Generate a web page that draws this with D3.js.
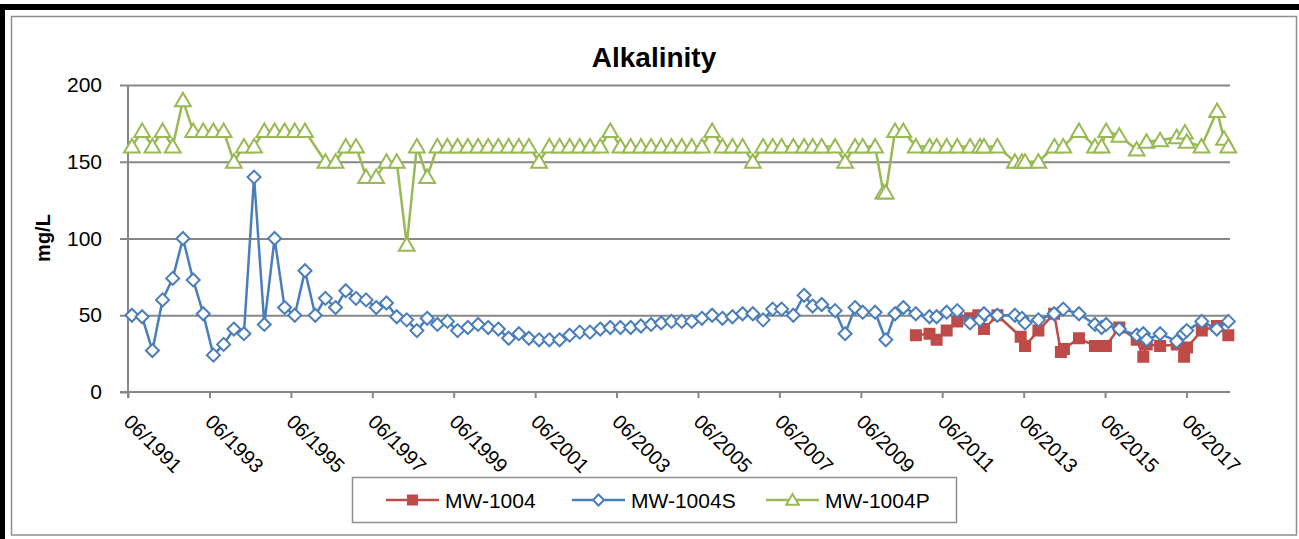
<!DOCTYPE html>
<html>
<head>
<meta charset="utf-8">
<script src="https://cdn.jsdelivr.net/npm/d3@7"></script>
<style>
  html, body { margin: 0; padding: 0; background: #fff; }
  svg { display: block; }
  text { font-family: "Liberation Sans", Arial, sans-serif; fill: #000; }
</style>
</head>
<body>
<svg id="chart" width="1299" height="539"></svg>
<script>
// ---------- DATA ----------
const chartTitle = "Alkalinity";
const yAxisTitle = "mg/L";
const seriesNames = ["MW-1004", "MW-1004S", "MW-1004P"];
const yTickValues = [0, 50, 100, 150, 200];
const xTickLabels = ["06/1991","06/1993","06/1995","06/1997","06/1999","06/2001","06/2003",
                     "06/2005","06/2007","06/2009","06/2011","06/2013","06/2015","06/2017"];

const mw1004Dates = ["2010-10-08","2011-02-07","2011-04-12","2011-07-11","2011-10-14","2012-02-06","2012-04-20",
  "2012-06-10","2012-10-08","2013-05-05","2013-06-13","2013-10-11","2014-03-01","2014-05-01","2014-05-28",
  "2014-10-10","2015-03-02","2015-06-09","2015-10-07","2016-03-11","2016-05-09","2016-06-09","2016-10-07",
  "2017-03-05","2017-05-10","2017-06-05","2017-10-16","2018-02-28","2018-06-11"];
const mw1004Values = [37,38,34,40,46,48,50,41,50,36,30,40,51,26,28,35,30,30,42,34,23,31,30,31,23,29,40,43,37];

const mw1004sDates = ["1991-07-06","1991-10-06","1992-01-06","1992-04-06","1992-07-06","1992-10-06","1993-01-06","1993-04-06","1993-07-06","1993-10-06",
  "1994-01-06","1994-04-06","1994-07-06","1994-10-06","1995-01-06","1995-04-06","1995-07-06","1995-10-06","1996-01-06","1996-04-06",
  "1996-07-06","1996-10-06","1997-01-06","1997-04-06","1997-07-06","1997-10-06","1998-01-06","1998-04-06","1998-07-06","1998-10-06",
  "1999-01-06","1999-04-06","1999-07-06","1999-10-06","2000-01-06","2000-04-06","2000-07-06","2000-10-06","2001-01-06","2001-04-06",
  "2001-07-06","2001-10-06","2002-01-06","2002-04-06","2002-07-06","2002-10-06","2003-01-06","2003-04-06","2003-07-06","2003-10-06",
  "2004-01-06","2004-04-06","2004-07-06","2004-10-06","2005-01-06","2005-04-06","2005-07-06","2005-10-06","2006-01-06","2006-04-06",
  "2006-07-06","2006-10-06","2007-01-06",
  "2007-04-02","2007-06-21","2007-10-04","2008-01-09","2008-03-26","2008-06-15","2008-10-13","2009-01-11","2009-04-10","2009-06-18",
  "2009-10-07","2010-01-11","2010-04-04","2010-06-17","2010-10-07","2011-02-07","2011-04-12","2011-07-11","2011-10-14","2012-02-06",
  "2012-05-05","2012-06-10","2012-10-08","2013-03-14","2013-05-16","2013-06-13","2013-10-11","2014-03-01","2014-05-22","2014-10-10",
  "2015-03-02","2015-05-01","2015-06-11","2015-10-07","2016-03-11","2016-05-09","2016-06-09","2016-10-07","2017-03-05","2017-05-03",
  "2017-06-03","2017-10-16","2018-02-28","2018-06-11"];
const mw1004sValues = [50,49,27,60,74,100,73,51,24,31,
  41,38,140,44,100,55,50,79,50,61,
  55,66,61,60,55,58,49,47,40,48,
  44,46,40,42,44,42,41,35,38,35,
  34,34,34,37,39,39,41,42,42,42,
  43,44,45,46,46,46,48,50,48,49,
  51,51,47,
  54,54,50,63,56,57,53,38,55,52,
  52,34,51,55,51,49,49,52,53,45,
  47,51,50,50,48,45,47,51,54,51,
  44,42,44,41,37,38,34,38,33,38,
  40,46,41,46];

const mw1004pDates = ["1991-07-06","1991-10-06","1992-01-06","1992-04-06","1992-07-06","1992-10-06","1993-01-06","1993-04-06","1993-07-06","1993-10-06",
  "1994-01-06","1994-04-06","1994-07-06","1994-10-06","1995-01-06","1995-04-06","1995-07-06","1995-10-06","1996-04-06",
  "1996-07-06","1996-10-06","1997-01-06","1997-04-06","1997-07-06","1997-10-06","1998-01-06","1998-04-06","1998-07-06","1998-10-06",
  "1999-01-06","1999-04-06","1999-07-06","1999-10-06","2000-01-06","2000-04-06","2000-07-06","2000-10-06","2001-01-06","2001-04-06",
  "2001-07-06","2001-10-06","2002-01-06","2002-04-06","2002-07-06","2002-10-06","2003-01-06","2003-04-06","2003-07-06","2003-10-06",
  "2004-01-06","2004-04-06","2004-07-06","2004-10-06","2005-01-06","2005-04-06","2005-07-06","2005-10-06","2006-01-06","2006-04-06",
  "2006-07-06","2006-10-06","2007-01-06",
  "2007-04-02","2007-06-21","2007-10-04","2008-01-09","2008-03-26","2008-06-15","2008-10-13","2009-01-11","2009-04-10","2009-06-18",
  "2009-10-07","2009-12-20","2010-01-11","2010-04-04","2010-06-17","2010-10-07","2011-02-07","2011-04-12","2011-07-11","2011-10-14",
  "2012-02-06","2012-05-05","2012-06-10","2012-10-08","2013-03-14","2013-05-16","2013-06-13","2013-10-11","2014-03-04","2014-05-22",
  "2014-10-10","2015-03-02","2015-05-01","2015-06-11","2015-10-07","2016-03-11","2016-06-07","2016-10-07","2017-03-05","2017-05-18",
  "2017-06-03","2017-10-13","2018-03-02","2018-05-03","2018-06-11"];
const mw1004pValues = [160,170,160,170,160,190,170,170,170,170,
  150,160,160,170,170,170,170,170,
  150,150,160,160,140,140,150,150,96,160,140,
  160,160,160,160,160,160,160,160,160,160,
  150,160,160,160,160,160,160,170,160,160,
  160,160,160,160,160,160,160,170,160,160,
  160,150,160,
  160,160,160,160,160,160,160,150,160,160,
  160,130,130,170,170,160,160,160,160,160,
  160,160,160,160,150,150,150,150,160,160,
  170,160,160,170,167,158,163,164,166,169,
  163,160,183,165,160];

// ---------- STYLE ----------
const colors = { red: "#BE4B48", blue: "#4A7EBB", green: "#98B954", grid: "#878787", frame: "#8f8f8f" };

const svg = d3.select("#chart");
const W = 1299, H = 539;
svg.append("rect").attr("width", W).attr("height", H).attr("fill", "#fff");

// outer black edges (screenshot border)
svg.append("rect").attr("x", 0).attr("y", 4).attr("width", W).attr("height", 6).attr("fill", "#000");
svg.append("rect").attr("x", 0).attr("y", 4).attr("width", 5).attr("height", H - 4).attr("fill", "#000");
// chart frame
svg.append("rect").attr("x", 11.5).attr("y", 16.5).attr("width", 1285).attr("height", 518.5)
  .attr("fill", "none").attr("stroke", colors.frame).attr("stroke-width", 1.5);

const plot = { left: 128, right: 1230, top: 85, bottom: 392 };
const parse = d3.timeParse("%Y-%m-%d");
const parseTick = d3.timeParse("%m/%Y");

const x = d3.scaleTime()
  .domain([new Date(1991, 5, 1), new Date(2018, 5, 26)])
  .range([plot.left, plot.right]);
const y = d3.scaleLinear().domain([0, 200]).range([plot.bottom, plot.top]);

// gridlines
const grid = svg.append("g").attr("transform", `translate(${plot.left},0)`)
  .call(d3.axisLeft(y).tickValues(yTickValues.filter(v => v > 0)).tickSize(-(plot.right - plot.left)).tickFormat(""));
grid.select(".domain").remove();
grid.selectAll("line").attr("stroke", colors.grid).attr("stroke-width", 2);

// y axis
const yAxis = svg.append("g").attr("transform", `translate(${plot.left},0)`)
  .call(d3.axisLeft(y).tickValues(yTickValues).tickSize(8).tickPadding(18).tickSizeOuter(0));
yAxis.select(".domain").attr("stroke", colors.grid).attr("stroke-width", 2)
  .attr("d", `M0,${plot.top}V${plot.bottom + 6}`);
yAxis.selectAll("line").attr("stroke", colors.grid).attr("stroke-width", 2);
yAxis.selectAll("text").attr("font-size", 21).attr("font-family", "Liberation Sans, Arial, sans-serif").attr("fill", "#000");

// x axis
const xTickDates = xTickLabels.map(parseTick);
const xAxis = svg.append("g").attr("transform", `translate(0,${plot.bottom})`)
  .call(d3.axisBottom(x).tickValues(xTickDates).tickSize(6).tickSizeOuter(0)
    .tickFormat((d, i) => xTickLabels[i]));
xAxis.select(".domain").attr("stroke", colors.grid).attr("stroke-width", 2)
  .attr("d", `M${plot.left - 8},0H${plot.right}`);
xAxis.selectAll("line").attr("stroke", colors.grid).attr("stroke-width", 2);
xAxis.selectAll("text")
  .attr("font-size", 20).attr("font-family", "Liberation Sans, Arial, sans-serif").attr("fill", "#000")
  .attr("x", 0).attr("y", 0).attr("dy", 0)
  .attr("text-anchor", "start")
  .attr("transform", "translate(-6,31) rotate(45)");

// titles
svg.append("text").attr("x", 654).attr("y", 67).attr("text-anchor", "middle")
  .attr("font-size", 28).attr("font-weight", "bold").text(chartTitle);
svg.append("text").attr("transform", "translate(50,238) rotate(-90)").attr("text-anchor", "middle")
  .attr("font-size", 20).attr("font-weight", "bold").text(yAxisTitle);

// series
const line = d3.line().x(d => x(d.date)).y(d => y(d.value));
function build(dates, values) { return dates.map((d, i) => ({ date: parse(d), value: values[i] })); }

const sRed = build(mw1004Dates, mw1004Values);
const sBlue = build(mw1004sDates, mw1004sValues);
const sGreen = build(mw1004pDates, mw1004pValues);

const diamond = (s) => `M0,${-s}L${s},0L0,${s}L${-s},0Z`;
const triangle = (s) => `M0,${-s}L${s * 1.05},${s * 0.8}L${-s * 1.05},${s * 0.8}Z`;

function drawSeries(data, color, markerPath, fill) {
  const g = svg.append("g");
  g.append("path").datum(data).attr("d", line).attr("fill", "none")
    .attr("stroke", color).attr("stroke-width", 2.5).attr("stroke-linejoin", "round");
  g.selectAll("path.m").data(data).enter().append("path").attr("class", "m")
    .attr("transform", d => `translate(${x(d.date)},${y(d.value)})`)
    .attr("d", markerPath).attr("fill", fill).attr("stroke", color).attr("stroke-width", 2);
}
drawSeries(sRed, colors.red, "M-5,-5H5V5H-5Z", colors.red);
drawSeries(sBlue, colors.blue, diamond(6.5), "#fff");
drawSeries(sGreen, colors.green, triangle(7.5), "#fff");

// legend
const lg = svg.append("g");
lg.append("rect").attr("x", 352.5).attr("y", 477.5).attr("width", 604).attr("height", 45)
  .attr("fill", "#fff").attr("stroke", colors.frame).attr("stroke-width", 1.5);
const legendItems = [
  { name: seriesNames[0], color: colors.red, x0: 386, path: "M-4.5,-4.5H4.5V4.5H-4.5Z", fill: colors.red },
  { name: seriesNames[1], color: colors.blue, x0: 572, path: diamond(5.5), fill: "#fff" },
  { name: seriesNames[2], color: colors.green, x0: 766, path: triangle(6), fill: "#fff" }
];
const ly = 500;
legendItems.forEach(it => {
  lg.append("line").attr("x1", it.x0).attr("x2", it.x0 + 53).attr("y1", ly).attr("y2", ly)
    .attr("stroke", it.color).attr("stroke-width", 2.5);
  lg.append("path").attr("transform", `translate(${it.x0 + 26.5},${ly})`).attr("d", it.path)
    .attr("fill", it.fill).attr("stroke", it.color).attr("stroke-width", 2);
  lg.append("text").attr("x", it.x0 + 59).attr("y", ly + 7.5).attr("font-size", 21).text(it.name);
});
</script>
</body>
</html>
